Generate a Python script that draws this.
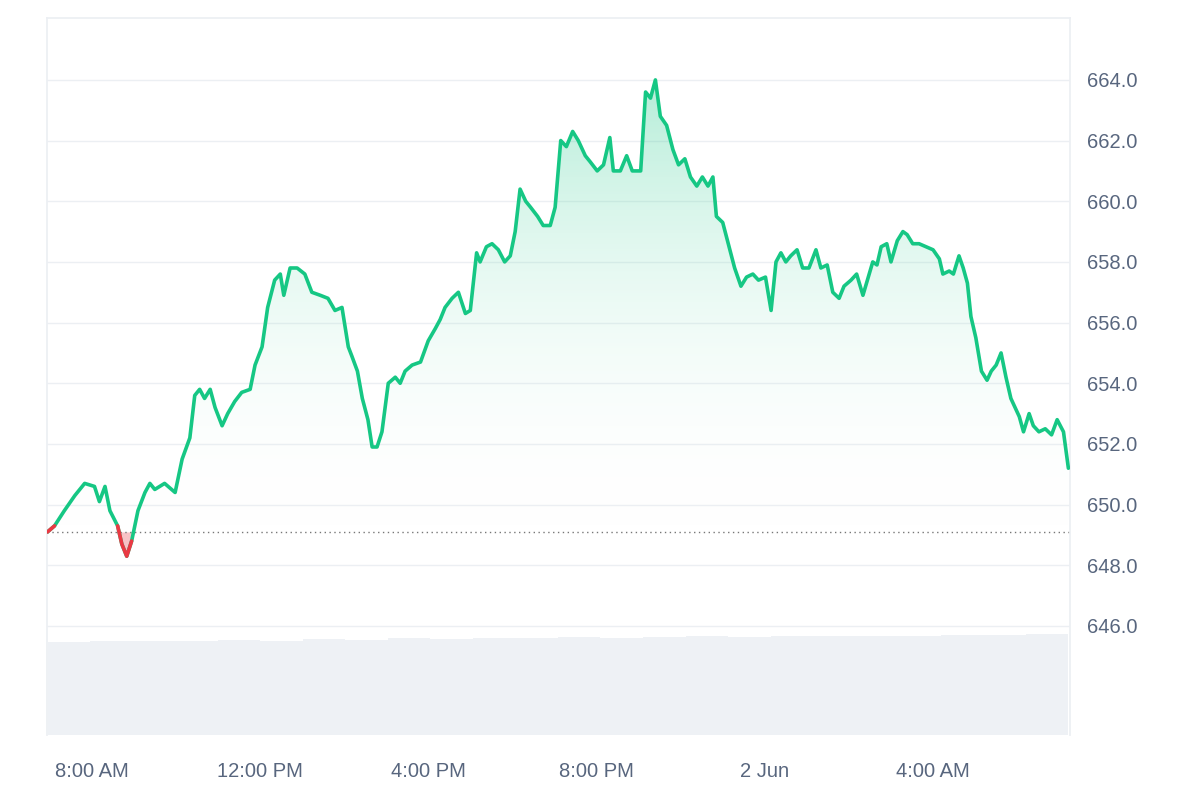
import numpy as np, pandas as pd, seaborn as sns, matplotlib
matplotlib.use("Agg")
import matplotlib.pyplot as plt
import matplotlib.dates as mdates
from matplotlib.colors import LinearSegmentedColormap
from matplotlib.patches import Polygon

# minutes relative to 1 Jun 8:00 AM
minutes = [-63,-53,-39,-24,-10,4,11,19,26,37,43,50,57,66,76,83,90,104,119,129,
140,147,154,161,169,176,186,194,204,214,226,233,243,251,261,269,274,283,293,304,
314,326,337,347,357,366,371,379,386,394,400,407,414,423,433,440,447,457,469,480,
490,497,504,514,523,533,540,549,554,563,571,580,589,597,604,611,619,626,636,644,
654,661,669,677,686,694,704,711,721,730,739,744,754,763,771,783,790,797,804,811,
820,829,837,846,854,863,871,879,886,891,900,909,917,926,934,943,951,961,969,976,
983,990,997,1006,1014,1023,1033,1040,1049,1057,1066,1073,1083,1091,1100,1109,1114,1120,1126,1134,
1140,1149,1157,1163,1171,1180,1190,1200,1209,1214,1223,1229,1237,1243,1249,1254,1261,1269,1277,1283,
1290,1297,1304,1311,1323,1329,1337,1343,1351,1360,1369,1377,1386,1393]
prices = [649.1,649.3,649.8,650.3,650.7,650.6,650.1,650.6,649.8,649.3,648.7,648.3,648.8,649.8,650.4,650.7,650.5,650.7,650.4,651.5,
652.2,653.6,653.8,653.5,653.8,653.2,652.6,653.0,653.4,653.7,653.8,654.6,655.2,656.5,657.4,657.6,656.9,657.8,657.8,657.6,
657.0,656.9,656.8,656.4,656.5,655.2,654.9,654.4,653.5,652.8,651.9,651.9,652.4,654.0,654.2,654.0,654.4,654.6,654.7,655.4,
655.8,656.1,656.5,656.8,657.0,656.3,656.4,658.3,658.0,658.5,658.6,658.4,658.0,658.2,659.0,660.4,660.0,659.8,659.5,659.2,
659.2,659.8,662.0,661.8,662.3,662.0,661.5,661.3,661.0,661.2,662.1,661.0,661.0,661.5,661.0,661.0,663.6,663.4,664.0,662.8,
662.5,661.7,661.2,661.4,660.8,660.5,660.8,660.5,660.8,659.5,659.3,658.5,657.8,657.2,657.5,657.6,657.4,657.5,656.4,658.0,
658.3,658.0,658.2,658.4,657.8,657.8,658.4,657.8,657.9,657.0,656.8,657.2,657.4,657.6,656.9,657.6,658.0,657.9,658.5,658.6,
658.0,658.7,659.0,658.9,658.6,658.6,658.5,658.4,658.1,657.6,657.7,657.6,658.2,657.8,657.3,656.2,655.5,654.4,654.1,654.4,
654.6,655.0,654.2,653.5,652.9,652.4,653.0,652.6,652.4,652.5,652.3,652.8,652.4,651.2]
baseline = 649.1
volume = [0.13,0.132,0.131,0.132,0.133,0.132,0.134,0.133,0.135,0.134,0.136,0.135,0.137,0.136,0.137,0.138,0.137,0.138,0.139,0.138,0.139,0.14,0.14,0.141]
y_ticks = [646.0,648.0,650.0,652.0,654.0,656.0,658.0,660.0,662.0,664.0]

n = min(len(minutes), len(prices))
minutes, prices = minutes[:n], prices[:n]

sns.set_theme(style="white")
plt.rcParams['font.family'] = ['Liberation Sans', 'DejaVu Sans']
t = pd.Timestamp("2024-06-01 08:00") + pd.to_timedelta(minutes, unit="min")
tn = mdates.date2num(t)
p = np.array(prices)

fig = plt.figure(figsize=(12, 8), dpi=100)
ax = fig.add_axes([0.039, 0.081, 0.853, 0.8965])
ax.set_ylim(642.4, 666.04)
ax.set_xlim(tn[0] - 0.0007, tn[-1] + 0.002)

axv = ax.twinx()
axv.set_ylim(0, 1)
vt = np.linspace(tn[0], tn[-1], len(volume) + 1)
axv.bar(vt[:-1], volume, width=np.diff(vt), color="#eef1f5", align="edge", lw=0, zorder=0)
axv.set_yticks([]); axv.set_xlim(ax.get_xlim())
for s in axv.spines.values(): s.set_visible(False)
ax.set_zorder(axv.get_zorder() + 1); ax.patch.set_visible(False)

cmap = LinearSegmentedColormap.from_list("g", [(1, 1, 1, 0), (0.09, 0.78, 0.52, 0.32)])
grad = np.linspace(0, 1, 256).reshape(-1, 1)
im = ax.imshow(grad, aspect="auto", cmap=cmap, origin="lower",
               extent=[tn[0], tn[-1], baseline, p.max()], zorder=1)
top = np.maximum(p, baseline)
verts = np.vstack([np.column_stack([tn, top]), [[tn[-1], baseline], [tn[0], baseline]]])
poly = Polygon(verts, closed=True, transform=ax.transData, facecolor="none", edgecolor="none")
ax.add_patch(poly)
im.set_clip_path(poly)
ax.fill_between(tn, baseline, p, where=p < baseline, interpolate=True, color="#ea3943", alpha=0.3, lw=0, zorder=1)

sns.lineplot(x=tn, y=p, ax=ax, color="#16c784", lw=2.6, zorder=3)
pr = np.ma.masked_where(p > baseline + 0.3, p)
ax.plot(tn, pr, color="#ea3943", lw=2.6, zorder=4)
ax.axhline(baseline, color="#777", ls=(0, (1, 2.5)), lw=1, zorder=2)

ax.set_yticks(y_ticks)
ax.grid(axis="y", color="#eceff3", lw=1)
ax.yaxis.tick_right()
ax.set_yticklabels([f"{v:.1f}" for v in y_ticks])
xt = pd.to_datetime(["2024-06-01 08:00", "2024-06-01 12:00", "2024-06-01 16:00", "2024-06-01 20:00", "2024-06-02 00:00", "2024-06-02 04:00"])
ax.set_xticks(mdates.date2num(xt))
ax.set_xticklabels(["8:00 AM", "12:00 PM", "4:00 PM", "8:00 PM", "2 Jun", "4:00 AM"])
ax.tick_params(axis="y", length=0, labelsize=14.5, colors="#58667e", pad=12)
ax.tick_params(axis="x", length=0, labelsize=14.5, colors="#58667e", pad=19)
ax.set_xlabel(""); ax.set_ylabel("")
for k, s in ax.spines.items():
    s.set_visible(k in ("top", "right", "left"))
    s.set_color("#eceff3")
fig.savefig("out.png")
